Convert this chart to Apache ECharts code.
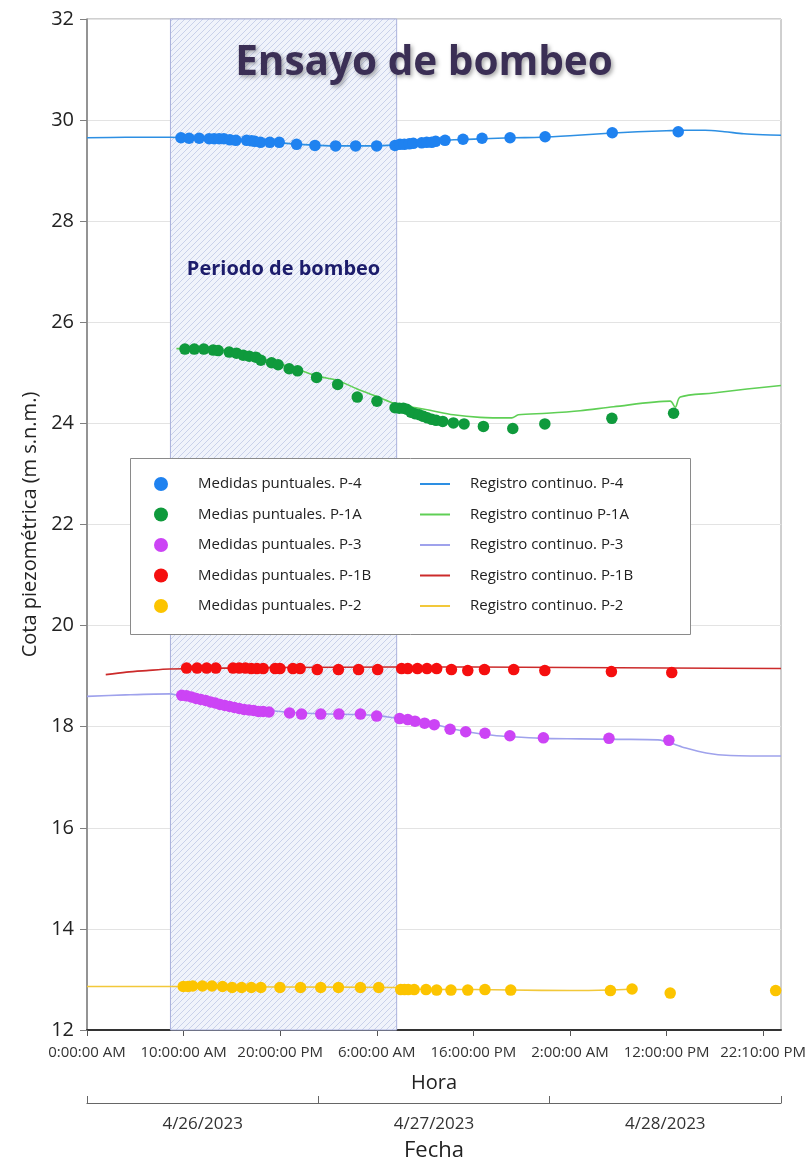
<!DOCTYPE html>
<html>
<head>
<meta charset="utf-8">
<script src="https://cdn.jsdelivr.net/npm/echarts@6/dist/echarts.min.js"></script>
<style>
  html, body { margin: 0; padding: 0; background: #fff; }
  #chart { width: 809px; height: 1164px; }
</style>
</head>
<body>
<div id="chart"></div>
<script>
// eje horizontal en horas desde 4/26/2023 0:00
var xTickLabels = ['0:00:00 AM', '10:00:00 AM', '20:00:00 PM', '6:00:00 AM', '16:00:00 PM', '2:00:00 AM', '12:00:00 PM', '22:10:00 PM'];
var xTickValues = [0, 10, 20, 30, 40, 50, 60, 70];
var fechas = ['4/26/2023', '4/27/2023', '4/28/2023'];
var periodoBombeo = [8.64, 32.06];

// P-4
var p4T = [9.73, 10.57, 11.61, 12.64, 13.16, 13.68, 14.17, 14.79, 15.41, 16.52, 17.04, 17.38, 17.97, 18.93, 19.90, 21.70, 23.60, 25.74, 27.81, 29.99, 31.89, 32.40, 32.85, 33.37, 33.78, 34.65, 35.17, 35.69, 36.10, 37.07, 38.93, 40.90, 43.80, 47.43, 54.38, 61.21];
var p4V = [29.65, 29.64, 29.64, 29.63, 29.63, 29.63, 29.63, 29.61, 29.60, 29.60, 29.59, 29.58, 29.56, 29.56, 29.56, 29.52, 29.50, 29.49, 29.49, 29.49, 29.50, 29.52, 29.52, 29.53, 29.54, 29.55, 29.56, 29.56, 29.58, 29.60, 29.62, 29.64, 29.65, 29.67, 29.75, 29.77];
var r4T = [0, 4, 8.6, 10, 12, 14, 16, 18, 20, 22, 24, 26, 30, 32, 34, 36, 38, 41, 44, 47, 50, 54, 57, 60, 62, 64, 66, 68, 70, 71.85];
var r4V = [29.65, 29.66, 29.66, 29.65, 29.63, 29.63, 29.60, 29.57, 29.55, 29.52, 29.50, 29.49, 29.49, 29.51, 29.54, 29.58, 29.61, 29.63, 29.65, 29.66, 29.69, 29.74, 29.77, 29.79, 29.80, 29.80, 29.77, 29.73, 29.71, 29.70];

// P-1A
var p1aT = [10.14, 11.11, 12.09, 13.06, 13.58, 14.72, 15.48, 16.17, 16.79, 17.48, 18.00, 19.11, 19.79, 20.93, 21.80, 23.77, 25.95, 27.98, 30.02, 31.89, 32.33, 32.75, 33.10, 33.54, 33.96, 34.40, 34.82, 35.23, 35.69, 36.14, 36.83, 37.93, 39.04, 41.04, 44.08, 47.40, 54.34, 60.73];
var p1aV = [25.47, 25.47, 25.47, 25.45, 25.44, 25.41, 25.39, 25.35, 25.33, 25.31, 25.25, 25.20, 25.16, 25.08, 25.04, 24.91, 24.77, 24.52, 24.44, 24.31, 24.30, 24.30, 24.28, 24.22, 24.19, 24.17, 24.14, 24.11, 24.08, 24.06, 24.04, 24.01, 23.99, 23.94, 23.90, 23.99, 24.10, 24.20];
var r1aT = [9.26, 12.09, 14.79, 17.9, 21.0, 23.77, 25.95, 27.98, 30.02, 31.89, 33.78, 35.51, 37.93, 40.69, 43.98, 44.66, 47.61, 51.06, 54.51, 60.38, 60.90, 61.42, 64.84, 68.33, 71.85];
var r1aV = [25.48, 25.48, 25.42, 25.29, 25.12, 24.94, 24.85, 24.68, 24.53, 24.39, 24.32, 24.26, 24.17, 24.12, 24.11, 24.17, 24.20, 24.25, 24.33, 24.44, 24.32, 24.52, 24.60, 24.68, 24.75];

// P-3
var p3T = [9.81, 10.31, 10.81, 11.31, 11.79, 12.29, 12.79, 13.28, 13.78, 14.28, 14.78, 15.26, 15.76, 16.26, 16.76, 17.25, 17.75, 18.24, 18.84, 20.97, 22.21, 24.20, 26.08, 28.31, 29.99, 32.37, 33.21, 33.96, 34.95, 35.95, 37.59, 39.21, 41.20, 43.78, 47.25, 54.04, 60.24];
var p3V = [18.62, 18.61, 18.59, 18.56, 18.54, 18.52, 18.49, 18.47, 18.44, 18.42, 18.40, 18.38, 18.36, 18.34, 18.33, 18.32, 18.30, 18.30, 18.29, 18.27, 18.25, 18.25, 18.25, 18.25, 18.21, 18.16, 18.14, 18.11, 18.07, 18.04, 17.95, 17.90, 17.87, 17.82, 17.78, 17.77, 17.73];
var r3T = [0, 4, 8.6, 9.5, 11, 13, 15, 17, 19, 20.5, 22, 25, 28, 30, 32, 34, 36, 38, 40, 42, 44, 47, 51, 55, 59.1, 61.6, 64.1, 66.6, 71.85];
var r3V = [18.60, 18.63, 18.65, 18.62, 18.59, 18.52, 18.45, 18.38, 18.32, 18.29, 18.27, 18.25, 18.24, 18.22, 18.17, 18.12, 18.05, 17.95, 17.88, 17.83, 17.80, 17.77, 17.76, 17.75, 17.74, 17.60, 17.48, 17.43, 17.42];

// P-1B
var p1bT = [10.31, 11.40, 12.39, 13.34, 15.12, 15.76, 16.40, 17.01, 17.60, 18.24, 19.48, 19.98, 21.32, 22.06, 23.84, 26.03, 28.11, 30.09, 32.57, 33.21, 34.21, 35.20, 36.20, 37.73, 39.42, 41.15, 44.18, 47.40, 54.29, 60.54];
var p1bV = [19.16, 19.16, 19.16, 19.16, 19.16, 19.16, 19.16, 19.15, 19.15, 19.15, 19.15, 19.15, 19.15, 19.15, 19.13, 19.13, 19.13, 19.13, 19.15, 19.15, 19.15, 19.15, 19.15, 19.13, 19.11, 19.13, 19.13, 19.11, 19.09, 19.07];
var r1bT = [1.94, 4.08, 6.16, 8.57, 20, 32, 40, 50, 60, 71.85];
var r1bV = [19.03, 19.08, 19.11, 19.14, 19.17, 19.18, 19.18, 19.17, 19.16, 19.15];

// P-2
var p2T = [9.96, 10.46, 10.95, 11.95, 12.94, 14.03, 15.02, 16.01, 17.01, 18.00, 19.98, 22.11, 24.20, 26.03, 28.31, 30.20, 32.48, 32.87, 33.26, 33.87, 35.10, 36.20, 37.68, 39.42, 41.20, 43.87, 54.19, 56.43, 60.38, 71.30];
var p2V = [12.86, 12.86, 12.87, 12.87, 12.87, 12.86, 12.84, 12.84, 12.84, 12.84, 12.84, 12.84, 12.84, 12.84, 12.84, 12.84, 12.80, 12.80, 12.80, 12.80, 12.80, 12.79, 12.79, 12.79, 12.80, 12.79, 12.78, 12.81, 12.73, 12.78];
var r2T = [0, 8.6, 20, 32, 33, 40, 44, 50, 54, 56.4];
var r2V = [12.86, 12.86, 12.85, 12.84, 12.81, 12.80, 12.79, 12.78, 12.79, 12.81];

function pares(t, v) {
  return t.map(function (x, i) { return [x, v[i]]; });
}

function rayado() {
  var c = document.createElement('canvas');
  c.width = 6; c.height = 6;
  var g = c.getContext('2d');
  g.fillStyle = '#f0f3fb';
  g.fillRect(0, 0, 6, 6);
  g.strokeStyle = '#c9d1ea';
  g.lineWidth = 1;
  g.beginPath();
  g.moveTo(-1, 7); g.lineTo(7, -1);
  g.moveTo(-1, 1); g.lineTo(1, -1);
  g.moveTo(5, 7); g.lineTo(7, 5);
  g.stroke();
  return c;
}

var chart = echarts.init(document.getElementById('chart'));

function puntos(name, t, v, color) {
  return { name: name, type: 'scatter', data: pares(t, v), symbol: 'circle', symbolSize: 11.5, z: 3,
    itemStyle: { color: color, opacity: 1 } };
}
function registro(name, t, v, color) {
  return { name: name, type: 'line', data: pares(t, v), symbol: 'none', smooth: 0.3, z: 2,
    lineStyle: { color: color, width: 1.6 }, itemStyle: { color: color } };
}

var option = {
  animation: false,
  backgroundColor: '#fff',
  textStyle: { fontFamily: 'Open Sans' },
  title: {
    text: 'Ensayo de bombeo',
    left: 419, top: 38, textAlign: 'center',
    textStyle: { fontSize: 40.5, fontWeight: 'bold', color: '#3b2f55',
      textShadowColor: 'rgba(0,0,0,0.35)', textShadowBlur: 4, textShadowOffsetX: 2, textShadowOffsetY: 2 }
  },
  grid: { left: 87, right: 28, top: 19, bottom: 134, show: true, borderColor: '#a0a0a0', borderWidth: 1,
    outerBoundsMode: 'none' },
  legend: [{
    orient: 'vertical', left: 154, top: 476, padding: 0, itemGap: 14.5, z: 6,
    itemWidth: 14, itemHeight: 14, icon: 'circle', selectedMode: false,
    textStyle: { fontSize: 15, color: '#222', lineHeight: 16, padding: [0, 0, 0, 25] },
    data: ['Medidas puntuales. P-4', 'Medias puntuales. P-1A', 'Medidas puntuales. P-3', 'Medidas puntuales. P-1B', 'Medidas puntuales. P-2']
  }, {
    orient: 'vertical', left: 420, top: 476, padding: 0, itemGap: 14.5, z: 6,
    itemWidth: 30, itemHeight: 14, selectedMode: false, icon: 'path://M0,0H30V2H0Z',
    textStyle: { fontSize: 15, color: '#222', lineHeight: 16, padding: [0, 0, 0, 15] },
    data: ['Registro continuo. P-4', 'Registro continuo P-1A', 'Registro continuo. P-3', 'Registro continuo. P-1B', 'Registro continuo. P-2']
  }],
  graphic: [{
    type: 'rect', z: 5,
    shape: { x: 130.5, y: 458.5, width: 560, height: 176 },
    style: { fill: '#fff', stroke: '#8a8a8a', lineWidth: 1 }
  }],
  xAxis: [{
    type: 'value', min: 0, max: 71.85,
    name: 'Hora', nameLocation: 'middle', nameGap: 43,
    nameTextStyle: { fontSize: 20, color: '#222' },
    axisLine: { show: true, lineStyle: { color: '#333', width: 2 } },
    axisTick: { show: true, length: 6, customValues: xTickValues, lineStyle: { color: '#555' } },
    axisLabel: { customValues: xTickValues, fontSize: 15, color: '#333', margin: 15,
      formatter: function (v) { return xTickLabels[Math.round(v / 10)]; } },
    splitLine: { show: false }
  }, {
    type: 'category', position: 'bottom', offset: 73, data: fechas, boundaryGap: true,
    name: 'Fecha', nameLocation: 'middle', nameGap: 37,
    nameTextStyle: { fontSize: 22, color: '#222' },
    axisLine: { show: true, lineStyle: { color: '#666', width: 1.2 } },
    axisTick: { show: true, inside: true, length: 7, interval: 0, lineStyle: { color: '#666' } },
    axisLabel: { fontSize: 17, color: '#333', margin: 13 },
    splitLine: { show: false }
  }],
  yAxis: {
    type: 'value', min: 12, max: 32, interval: 2,
    name: 'Cota piezométrica (m s.n.m.)', nameLocation: 'middle', nameGap: 47,
    nameTextStyle: { fontSize: 20, color: '#222' },
    axisLine: { show: true, lineStyle: { color: '#808080', width: 1.5 } },
    axisTick: { show: true, length: 7, lineStyle: { color: '#808080' } },
    axisLabel: { fontSize: 20, color: '#222', margin: 13 },
    splitLine: { show: true, lineStyle: { color: '#e3e3e3' } }
  },
  series: [
    { name: 'periodo', type: 'line', data: [], z: 1,
      markArea: {
        silent: true,
        itemStyle: { color: { image: rayado(), repeat: 'repeat' }, borderColor: '#aab1dc', borderWidth: 1 },
        label: { show: true, position: 'insideTop', distance: 241, fontSize: 20, fontWeight: 'bold', color: '#1c1c6b' },
        data: [[{ name: 'Periodo de bombeo', xAxis: periodoBombeo[0] }, { xAxis: periodoBombeo[1] }]]
      } },
    registro('Registro continuo. P-4', r4T, r4V, '#2d8fe3'),
    registro('Registro continuo P-1A', r1aT, r1aV, '#5fcf55'),
    registro('Registro continuo. P-3', r3T, r3V, '#9fa2ec'),
    registro('Registro continuo. P-1B', r1bT, r1bV, '#cc2b2b'),
    registro('Registro continuo. P-2', r2T, r2V, '#f2c83a'),
    puntos('Medidas puntuales. P-4', p4T, p4V, '#1f82f0'),
    puntos('Medias puntuales. P-1A', p1aT, p1aV, '#0f9a3c'),
    puntos('Medidas puntuales. P-3', p3T, p3V, '#cc44f5'),
    puntos('Medidas puntuales. P-1B', p1bT, p1bV, '#f50f0f'),
    puntos('Medidas puntuales. P-2', p2T, p2V, '#fcc400')
  ]
};

chart.setOption(option);
</script>
</body>
</html>
